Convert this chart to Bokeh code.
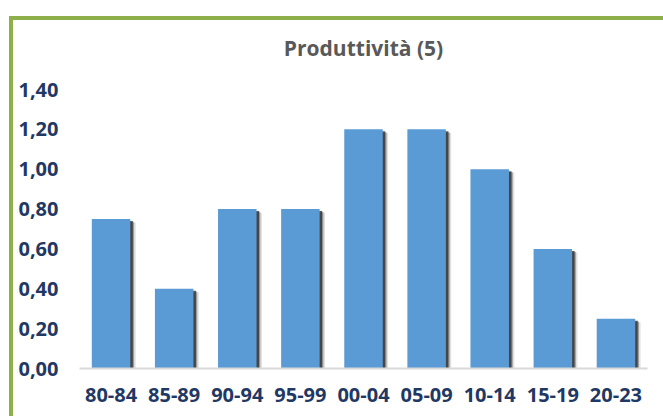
from bokeh.plotting import figure
from bokeh.models import ColumnDataSource, FixedTicker, InlineStyleSheet
from bokeh.transform import dodge
from bokeh.embed import file_html
from bokeh.resources import INLINE

periods = ["80-84", "85-89", "90-94", "95-99", "00-04", "05-09", "10-14", "15-19", "20-23"]
values = [0.75, 0.40, 0.80, 0.80, 1.20, 1.20, 1.00, 0.60, 0.25]
y_ticks = [0.0, 0.2, 0.4, 0.6, 0.8, 1.0, 1.2, 1.4]
y_tick_labels = ["0,00", "0,20", "0,40", "0,60", "0,80", "1,00", "1,20", "1,40"]

src = ColumnDataSource(dict(period=periods, value=values))

p = figure(x_range=periods, y_range=(0, 1.4), width=663, height=416,
           output_backend="svg", toolbar_location=None,
           min_border_left=79, min_border_right=16, min_border_top=89, min_border_bottom=48)
p.title.text = "Produttività (5)"
p.title.align = "center"
p.title.text_font = "Open Sans"
p.title.text_font_size = "21px"
p.title.text_font_style = "bold"
p.title.text_color = "#595959"
p.title.standoff = 55
p.outline_line_color = None
p.background_fill_color = "white"
p.border_fill_color = "white"

# shadows
p.vbar(x=dodge("period", 0.085, range=p.x_range), top=dodge("value", -0.018), bottom=0,
       width=0.61, source=src, fill_color="#000000", fill_alpha=0.12, line_color=None)
p.vbar(x=dodge("period", 0.06, range=p.x_range), top=dodge("value", -0.014), bottom=0,
       width=0.61, source=src, fill_color="#000000", fill_alpha=0.3, line_color=None)
p.vbar(x=dodge("period", 0.04, range=p.x_range), top=dodge("value", -0.01), bottom=0,
       width=0.61, source=src, fill_color="#2a2a2a", fill_alpha=0.75, line_color=None)
# bars
p.vbar(x="period", top="value", bottom=0, width=0.61, source=src,
       fill_color="#5B9BD5", line_color=None)

p.xgrid.grid_line_color = None
p.ygrid.grid_line_color = None

p.yaxis.ticker = FixedTicker(ticks=y_ticks)
p.yaxis.major_label_overrides = {t: l for t, l in zip(y_ticks, y_tick_labels)}
p.yaxis.axis_line_color = None
p.yaxis.major_tick_line_color = None
p.yaxis.minor_tick_line_color = None
p.yaxis.major_label_standoff = 15

p.xaxis.axis_line_color = "#D9D9D9"
p.xaxis.axis_line_width = 2
p.xaxis.major_tick_line_color = None
p.xaxis.minor_tick_line_color = None
p.xaxis.major_label_standoff = 13

for ax in (p.xaxis, p.yaxis):
    ax.major_label_text_font = "Open Sans"
    ax.major_label_text_font_size = "20px"
    ax.major_label_text_font_style = "bold"
    ax.major_label_text_color = "#1F3864"

# green chart-area frame (top and left edges visible)
p.stylesheets = [InlineStyleSheet(css="""
:host::before {
  content: ""; position: absolute; left: 9px; top: 16px; width: 660px; height: 4px;
  background: #8DB04A; z-index: 10; pointer-events: none;
}
:host::after {
  content: ""; position: absolute; left: 9px; top: 16px; width: 4px; height: 400px;
  background: #8DB04A; z-index: 10; pointer-events: none;
}
""")]

open("out.html", "w").write(file_html(p, INLINE))
